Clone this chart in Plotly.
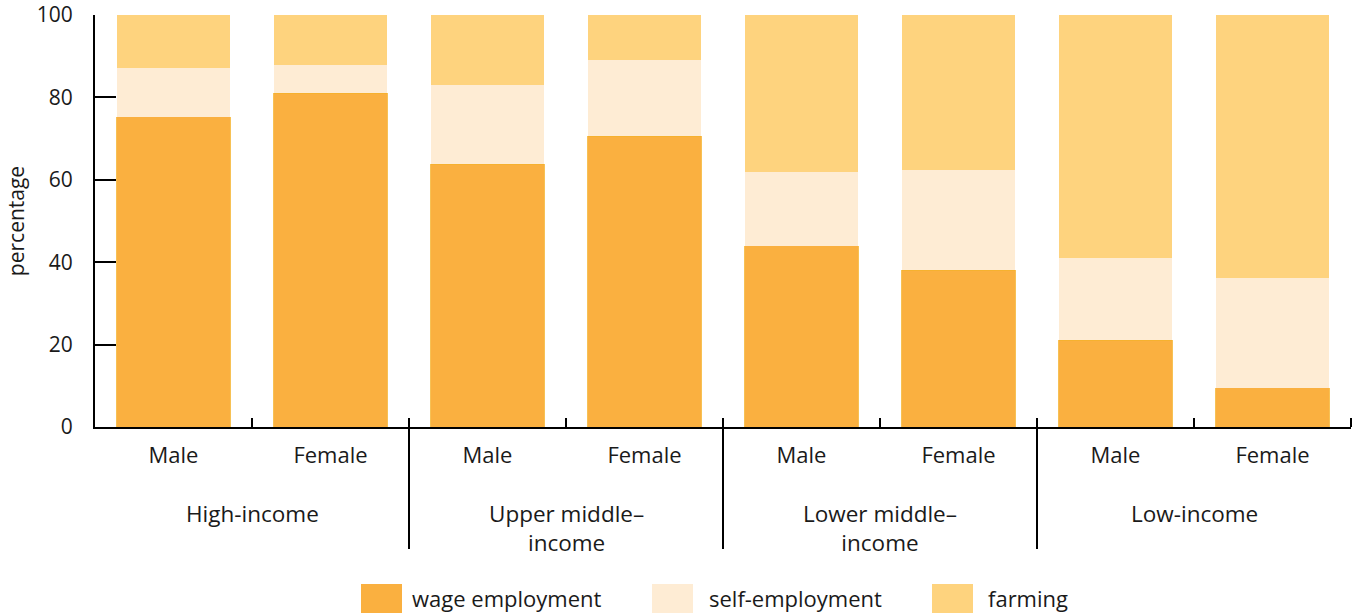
import plotly.graph_objects as go

groups = ["High-income", "Upper middle–<br>income", "Lower middle–<br>income", "Low-income"]
sexes = ["Male", "Female", "Male", "Female", "Male", "Female", "Male", "Female"]

wage = [75.3, 81.0, 63.8, 70.6, 44.0, 38.1, 21.0, 9.5]
self_emp = [11.9, 6.8, 19.1, 18.6, 18.0, 24.2, 20.0, 26.7]
farming = [12.8, 12.2, 17.1, 10.8, 38.0, 37.7, 59.0, 63.8]

series_names = ["wage employment", "self-employment", "farming"]
series_colors = ["#FAB040", "#FEECD4", "#FED37E"]
series_lines = ["#F5B22A", "#FEECD4", "#FED37E"]
series_values = [wage, self_emp, farming]

FONT = "Open Sans"
TXT = "#1a1a1a"

n = len(sexes)
xpos = list(range(n))
per_group = n // len(groups)

# pixel geometry helpers (plot area 95..1351 x 15..427)
PH = 412.0
PW = 1256.0
def py(p):
    return (427 - p) / PH
def px(p):
    return (p - 95) / PW

fig = go.Figure()
for name, color, lcol, vals in zip(series_names, series_colors, series_lines, series_values):
    fig.add_trace(go.Bar(
        x=xpos, y=vals, name=name,
        marker=dict(color=color, line=dict(width=0.8 if name == series_names[0] else 0, color=lcol)),
        width=0.726, showlegend=False,
    ))

# group dividers and labels
for gi, g in enumerate(groups):
    center = gi * per_group + (per_group - 1) / 2
    fig.add_annotation(xref="x", yref="paper", x=center, y=py(496), text=g,
                       showarrow=False, xanchor="center", yanchor="top",
                       font=dict(family=FONT, size=22.5, color=TXT))
    if gi > 0:
        b = gi * per_group - 0.5
        fig.add_shape(type="line", xref="x", yref="paper", x0=b, x1=b, y0=0, y1=py(549),
                      line=dict(color="black", width=2))

# manual legend (large swatches)
legend_sw = [361, 652, 932]
legend_tx = [410, 707, 986]
for name, color, lx, tx in zip(series_names, series_colors, legend_sw, legend_tx):
    fig.add_shape(type="rect", xref="paper", yref="paper",
                  x0=px(lx), x1=px(lx + 41), y0=py(613), y1=py(584),
                  fillcolor=color, line=dict(width=0), layer="above")
    fig.add_annotation(xref="paper", yref="paper", x=px(tx), y=py(598),
                       text=name, showarrow=False, xanchor="left", yanchor="middle",
                       font=dict(family=FONT, size=22, color=TXT))

fig.update_layout(
    barmode="stack",
    width=1354, height=613,
    margin=dict(l=95, r=3, t=15, b=186, autoexpand=False),
    plot_bgcolor="white", paper_bgcolor="white",
    font=dict(family=FONT, size=21, color=TXT),
)
fig.update_xaxes(
    range=[-0.5, n - 0.5],
    tickvals=xpos, ticktext=sexes, ticks="", ticklabelstandoff=8,
    minor=dict(tickvals=[i + 0.5 for i in range(n)], ticks="inside", ticklen=9,
               tickwidth=2, tickcolor="black", showgrid=False),
    showline=True, linecolor="black", linewidth=2,
    tickfont=dict(family=FONT, size=22, color=TXT),
    showgrid=False, zeroline=False, automargin=False,
)
fig.update_yaxes(
    range=[0, 100], tickvals=[0, 20, 40, 60, 80, 100],
    showline=True, linecolor="black", linewidth=2,
    ticks="inside", ticklen=21, tickwidth=2, tickcolor="black",
    ticklabelstandoff=16,
    showgrid=False, zeroline=False, automargin=False,
    title=dict(text="percentage", font=dict(family=FONT, size=21, color=TXT), standoff=6),
    tickfont=dict(family=FONT, size=21, color=TXT),
)

fig.write_html("out.html", config={"displayModeBar": False},
               post_script="document.body.style.margin='0';document.body.style.overflow='hidden';")
